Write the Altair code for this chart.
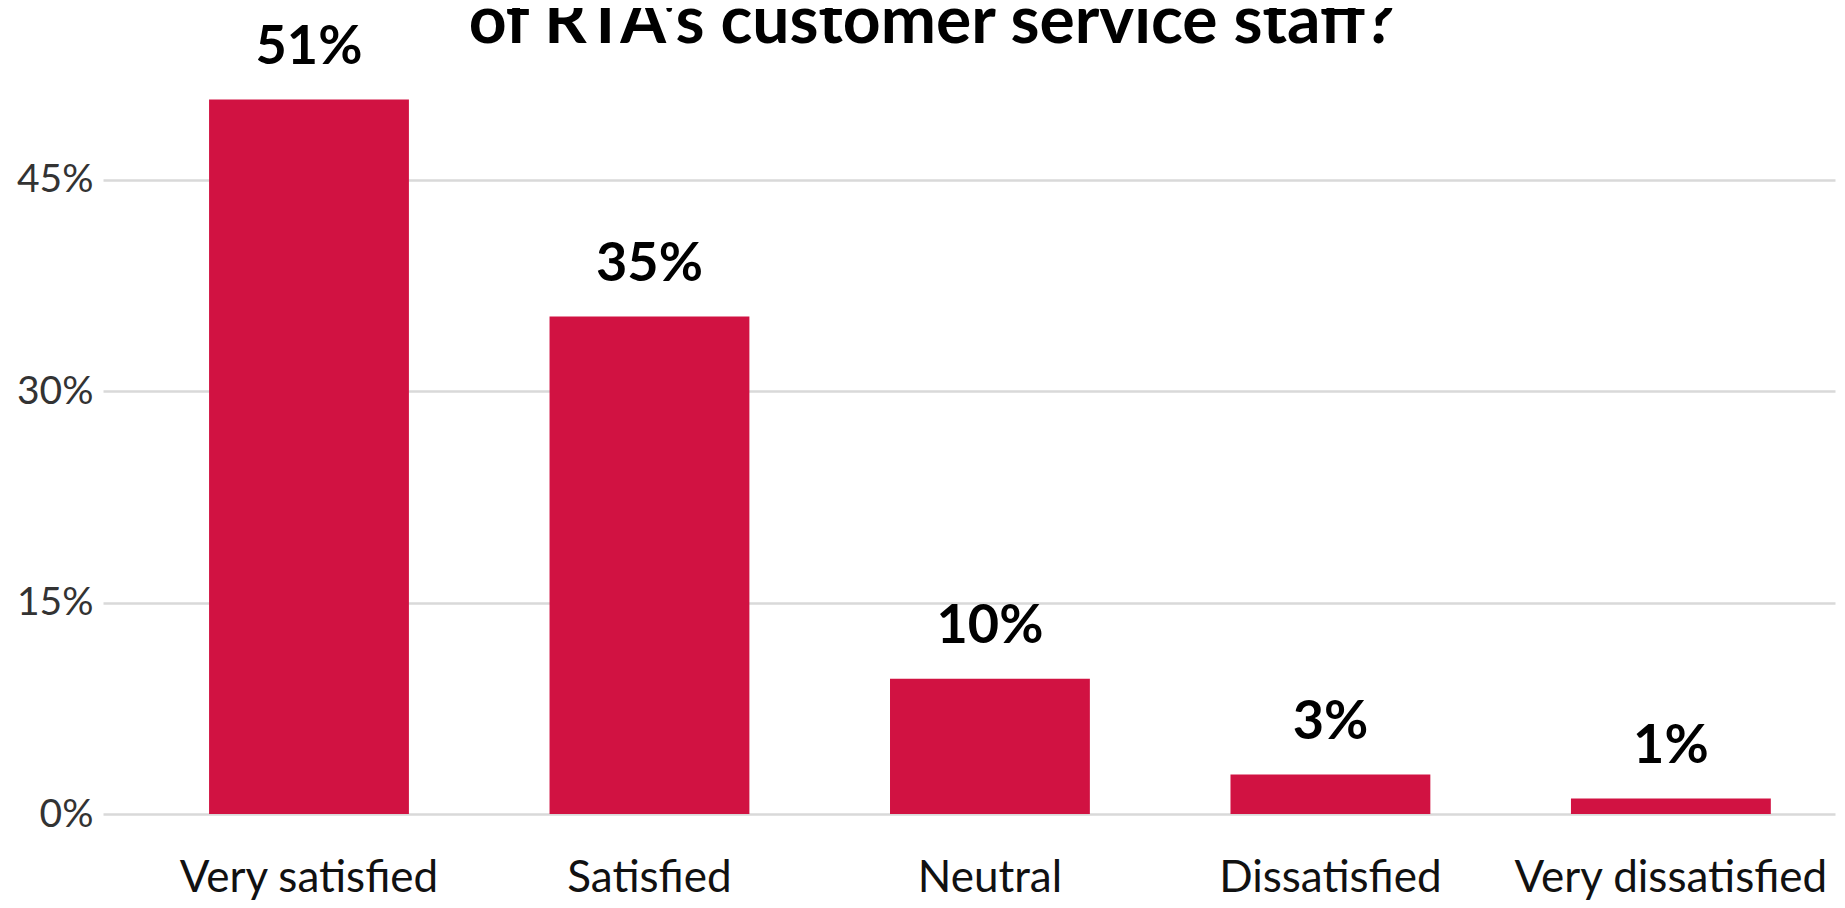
import altair as alt
import pandas as pd

categories = ["Very satisfied", "Satisfied", "Neutral", "Dissatisfied", "Very dissatisfied"]
values = [0.507, 0.353, 0.096, 0.028, 0.011]
labels = ["51%", "35%", "10%", "3%", "1%"]
y_ticks = [0, 0.15, 0.30, 0.45]
title_text = "of RTA's customer service staff?"

df = pd.DataFrame({"category": categories, "value": values, "label": labels})
title_df = pd.DataFrame({"t": [title_text]})

x = alt.X(
    "category:N",
    sort=categories,
    title=None,
    scale=alt.Scale(paddingInner=0.413, paddingOuter=0.25, align=0.623),
    axis=alt.Axis(
        labelAngle=0, labelFont="Lato", labelFontSize=44, labelColor="#111111",
        labelPadding=42, labelLimit=0, ticks=False, domain=False, grid=False,
    ),
)
y = alt.Y(
    "value:Q",
    title=None,
    scale=alt.Scale(domain=[0, 0.55], nice=False),
    axis=alt.Axis(
        values=y_ticks, format=".0%", labelFont="Lato", labelFontSize=39,
        labelColor="#333333", labelPadding=10, ticks=False, domain=False,
        grid=True, gridColor="#d9d9d9", gridWidth=2.5,
    ),
)

bars = alt.Chart(df).mark_bar(color="#D11242").encode(x=x, y=y)
text = alt.Chart(df).mark_text(
    font="Lato", fontSize=54, fontWeight="bold", color="#000000",
    baseline="alphabetic", dy=-36,
).encode(x=alt.X("category:N", sort=categories), y="value:Q", text="label:N")

title = alt.Chart(title_df).mark_text(
    font="Lato", fontSize=66, fontWeight="bold", color="#000000",
    baseline="alphabetic", align="center",
).encode(x=alt.value(829), y=alt.value(4), text="t:N")

chart = (
    alt.layer(bars, text, title)
    .properties(
        width=1732,
        height=775,
        padding={"left": 95, "top": 31, "right": 2, "bottom": 86},
        autosize=alt.AutoSizeParams(type="none"),
        background="white",
    )
    .configure_view(strokeWidth=0, stroke="transparent")
)

chart.save("out.html", embed_options={"renderer": "svg", "actions": False})
